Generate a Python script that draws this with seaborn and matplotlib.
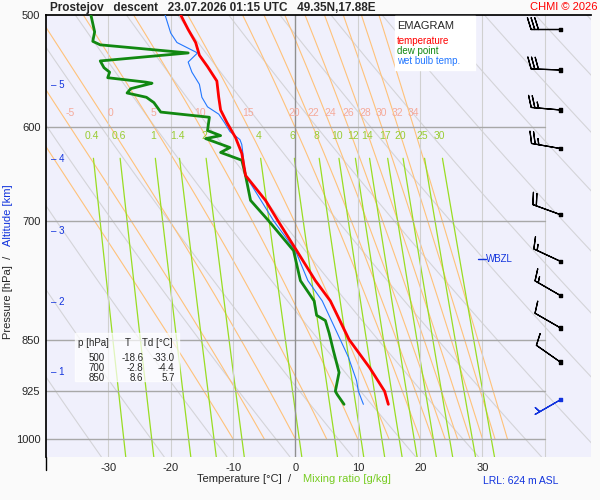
import numpy as np
import pandas as pd
import matplotlib
matplotlib.use("Agg")
import matplotlib.pyplot as plt
import seaborn as sns

sns.set_theme(style="white")
plt.rcParams['font.family'] = ['Liberation Sans', 'DejaVu Sans']

# ---- data ----
temp_p = [500, 512, 523, 534, 544, 557, 572, 584, 596, 611, 627, 650, 677, 700, 735, 772, 798, 850, 890, 925, 945]
temp_t = [-18.4, -17.2, -16.0, -15.4, -14.1, -12.6, -12.3, -12.0, -11.0, -9.6, -8.6, -8.0, -4.8, -2.8, 0.2, 3.2, 5.6, 8.6, 11.9, 14.3, 14.9]
dew_p = [500, 514, 522, 525, 532, 539, 545, 549, 554, 558, 559, 564, 568, 572, 577, 586, 591, 604, 609, 612, 621, 626, 634,
         650, 677, 700, 735, 772, 798, 817, 824, 841, 866, 897, 925, 930, 945]
dew_t = [-32.8, -32.2, -32.5, -31.3, -17.2, -31.3, -30.7, -29.8, -30.1, -24.0, -23.0, -26.4, -27.0, -23.9, -22.7, -21.6, -13.8,
         -14.1, -12.0, -14.4, -10.5, -12.0, -8.6, -8.0, -7.2, -4.3, -0.3, 0.8, 3.0, 3.4, 4.8, 5.4, 6.1, 7.0, 6.4, 6.7, 7.8]
wb_p = [500, 515, 523, 532, 540, 549, 560, 572, 581, 588, 596, 605, 613, 618, 650, 700, 735, 772, 798, 841, 875, 909, 925, 945]
wb_t = [-20.9, -20.0, -19.0, -15.7, -17.2, -16.6, -15.4, -15.0, -14.1, -12.3, -11.4, -10.5, -8.9, -8.6, -8.0, -3.5, 0.0, 2.0, 4.3, 6.7, 8.5, 9.8, 10.1, 10.9]
wind_p = [512, 547, 584, 622, 693, 748, 791, 834, 882, 938]
wind_spd = [30, 30, 25, 25, 20, 15, 15, 10, 10, 5]
wind_dir = [270, 272, 275, 280, 290, 295, 300, 300, 305, 240]
moist_labels = [-5, 0, 5, 10, 15, 20, 22, 24, 26, 28, 30, 32, 34]
moist_extra = [-10]
mix_labels = [0.4, 0.6, 1, 1.4, 2, 4, 6, 8, 10, 12, 14, 17, 20, 25, 30]
isobars = [600, 700, 850, 925, 1000]
isotherms = [-30, -20, -10, 10, 20, 30, 40]
theta_k = list(range(240, 420, 10))
alt_km = [1, 2, 3, 4, 5]
alt_p = [897, 800, 712, 633, 561]
table_rows = [("500", "-18.6", "-33.0"), ("700", "-2.8", "-4.4"), ("850", "8.6", "5.7")]

TMIN, TMAX, PTOP, PBOT = -40, 47.4, 500, 1030

fig = plt.figure(figsize=(6, 5), dpi=100)
ax = fig.add_axes([46/600, 1-457/500, (591-46)/600, (457-15)/500])
ax.set_facecolor('#f0f0fc')
ax.set_yscale('log')
ax.set_xlim(TMIN, TMAX)
ax.set_ylim(PBOT, PTOP)

def es(tc):
    return 6.112*np.exp(17.67*tc/(tc+243.5))

pp = np.geomspace(PBOT, PTOP, 200)
for th in theta_k:
    t = th*(pp/1000.0)**0.286 - 273.15
    ax.plot(t, pp, color='#d4d4d8', lw=0.8, zorder=1)

def moist(tw):
    Rd, cp, Lv, eps = 287.0, 1005.0, 2.5e6, 0.622
    ps = np.linspace(1000, 500, 1001)
    T = tw + 273.15
    out = [T]
    def f(T, p):
        e = es(T-273.15); rs = eps*e/(p-e)
        return (Rd*T + Lv*rs)/(p*(cp + Lv**2*rs*eps/(Rd*T**2)))
    for i in range(1, len(ps)):
        p = ps[i-1]; dp = ps[i]-p
        k1 = f(T, p); k2 = f(T+0.5*dp*k1, p+0.5*dp); k3 = f(T+0.5*dp*k2, p+0.5*dp); k4 = f(T+dp*k3, p+dp)
        T = T + dp*(k1+2*k2+2*k3+k4)/6
        out.append(T)
    return ps, np.array(out)-273.15
for tw in moist_extra + moist_labels:
    ps, ts = moist(tw)
    ax.plot(ts, ps, color='#ffc27a', lw=0.8, zorder=1)
    if tw in moist_labels:
        t600 = np.interp(600, ps[::-1], ts[::-1])
        ax.text(t600, 592, str(tw), color='#f5aa9a', fontsize=7.5, ha='center', va='bottom', zorder=3)

pm = np.geomspace(PBOT, 632, 60)
for w in mix_labels:
    e = w*pm/(622.0+w)
    td = 243.5*np.log(e/6.112)/(17.67-np.log(e/6.112))
    ax.plot(td, pm, color='#99dd22', lw=0.9, zorder=1)
    e6 = w*616/(622.0+w)
    t6 = 243.5*np.log(e6/6.112)/(17.67-np.log(e6/6.112))
    ax.text(t6, 614, ('%g' % w), color='#99cc33', fontsize=7.5, ha='center', va='bottom', zorder=3)

for p in isobars:
    ax.plot([TMIN, 40], [p, p], color='#a8a8a8', lw=1, zorder=2)
for t in isotherms:
    ax.axvline(t, color='#d0d0d0', lw=0.8, zorder=1)
ax.axvline(0, color='#909090', lw=1, zorder=2)

df_t = pd.DataFrame({'T': temp_t, 'p': temp_p})
df_d = pd.DataFrame({'T': dew_t, 'p': dew_p})
df_w = pd.DataFrame({'T': wb_t, 'p': wb_p})
sns.lineplot(data=df_w, x='T', y='p', sort=False, orient='y', color='#2277ff', lw=0.8, ax=ax, zorder=4)
sns.lineplot(data=df_d, x='T', y='p', sort=False, orient='y', color='#118811', lw=2, ax=ax, zorder=5)
sns.lineplot(data=df_t, x='T', y='p', sort=False, orient='y', color='#ff0000', lw=2, ax=ax, zorder=6)

d = np.deg2rad(wind_dir)
u = -np.array(wind_spd)*np.sin(d); v = -np.array(wind_spd)*np.cos(d)
cols = ['black']*(len(wind_p)-1) + ['#1133dd']
ax.barbs([42.5]*len(wind_p), wind_p, u, v, color=cols, length=6.5, linewidth=0.9, zorder=6, clip_on=False)
ax.scatter([42.5]*len(wind_p), wind_p, s=6, c=cols, marker='s', zorder=7)

ax.set_xlabel(''); ax.set_ylabel('')
ax.set_xticks([-30, -20, -10, 0, 10, 20, 30])
ax.set_xticklabels(['-30', '-20', '-10', '0', '10', '20', '30'], fontsize=8)
ax.set_yticks([500] + isobars)
ax.set_yticklabels(['500'] + [str(p) for p in isobars], fontsize=8)
ax.yaxis.set_minor_locator(matplotlib.ticker.NullLocator())
ax.tick_params(length=0, pad=4)
for s in ['right', 'bottom']:
    ax.spines[s].set_visible(False)
ax.spines['top'].set_color('black'); ax.spines['left'].set_color('black')
fig.add_artist(plt.Line2D([46/600, 46/600], [1-470/500, 1-457/500], color='black', lw=1))

for km, p in zip(alt_km, alt_p):
    ax.text(-39.2, p, '– ' + str(km), color='#1133dd', fontsize=7, va='center')

# legend box
ax.fill_between([16.0, 28.8], 501, 547, color='white', zorder=7)
ax.text(16.3, 509, 'EMAGRAM', fontsize=8, va='center', zorder=8)
ax.text(16.3, 522, 'temperature', color='red', fontsize=7, va='center', zorder=9)
ax.text(16.3, 530.5, 'dew point', color='#118811', fontsize=7, va='center', zorder=9)
ax.text(16.3, 539, 'wet bulb temp.', color='#2277ff', fontsize=7, va='center', zorder=9)

# table
ax.fill_between([-35.4, -18.6], 841, 910, color='white', alpha=0.7, zorder=7)
ax.text(-34.9, 855, 'p [hPa]', fontsize=7, va='center', zorder=8)
ax.text(-27.3, 855, 'T', fontsize=7, va='center', zorder=8)
ax.text(-24.6, 855, 'Td [°C]', fontsize=7, va='center', zorder=8)
for i, y in enumerate([876, 890, 905]):
    a, b, c = table_rows[i]
    ax.text(-30.6, y, a, fontsize=7, va='center', ha='right', zorder=8)
    ax.text(-24.4, y, b, fontsize=7, va='center', ha='right', zorder=8)
    ax.text(-19.4, y, c, fontsize=7, va='center', ha='right', zorder=8)

ax.plot([29.3, 30.5], [745, 745], color='#1133dd', lw=1, zorder=8)
ax.text(30.6, 745, 'WBZL', color='#1133dd', fontsize=7, va='center', zorder=8)

fig.text(50/600, 1-8/500, 'Prostejov   descent   23.07.2026 01:15 UTC   49.35N,17.88E',
         fontsize=8.5, fontweight='bold', va='center')
fig.text(597/600, 1-7/500, 'CHMI © 2026', color='red', fontsize=8, ha='right', va='center')
fig.text(197/600, 1-479/500, 'Temperature [°C]  /  ', fontsize=8, va='center')
fig.text(303/600, 1-479/500, 'Mixing ratio [g/kg]', fontsize=8, va='center', color='#77cc22')
fig.text(483/600, 1-481/500, 'LRL: 624 m ASL', fontsize=7.5, va='center', color='#1133dd')
fig.text(8/600, 1-297/500, 'Pressure [hPa]  /', fontsize=8, va='center', ha='center', rotation=90)
fig.text(8/600, 1-215/500, 'Altitude [km]', fontsize=8, va='center', ha='center', rotation=90, color='#1133dd')
fig.patch.set_facecolor('#fafafa')
fig.savefig('out.png', dpi=100, facecolor=fig.get_facecolor())
